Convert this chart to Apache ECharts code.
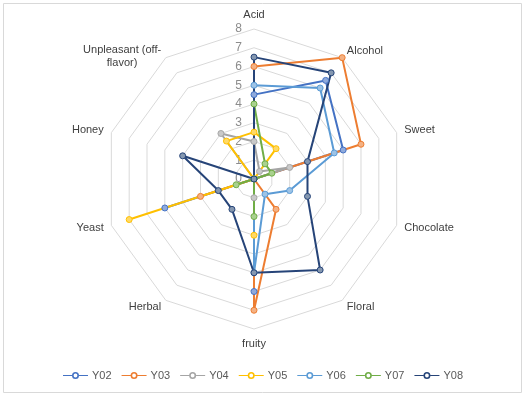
<!DOCTYPE html>
<html>
<head>
<meta charset="utf-8">
<script src="https://cdn.jsdelivr.net/npm/echarts@6/dist/echarts.min.js"></script>
<style>
    html, body { margin: 0; padding: 0; background: #fff; }
    #radarChart { width: 526px; height: 397px; }
</style>
</head>
<body>
<div id="radarChart"></div>
<script>
// attributes, in the order Excel walks them (clockwise from the top)
let categories = ['Acid', 'Alcohol', 'Sweet', 'Chocolate', 'Floral', 'fruity', 'Herbal', 'Yeast', 'Honey', 'Unpleasant (off-\nflavor)'];
let seriesNames = ['Y02', 'Y03', 'Y04', 'Y05', 'Y06', 'Y07', 'Y08'];
let scaleMax = 8;

let Y02 = [4.5, 6.5, 5, 0, 0, 6, 0, 5, 0, 0];
let Y03 = [6, 8, 6, 0, 2, 7, 0, 3, 0, 0];
let Y04 = [2, 0.5, 2, 0, 0, 1, 0, 0, 0, 3];
let Y05 = [2.5, 2, 0, 0, 0, 3, 0, 7, 0, 2.5];
let Y06 = [5, 6, 4.5, 2, 1, 5, 0, 0, 0, 0];
let Y07 = [4, 1, 1, 0, 0, 2, 0, 1, 0, 0];
let Y08 = [6.5, 7, 3, 3, 6, 5, 2, 2, 4, 0];

let values = [Y02, Y03, Y04, Y05, Y06, Y07, Y08];
let lineColors = ['#4472C4', '#ED7D31', '#A5A5A5', '#FFC000', '#5B9BD5', '#70AD47', '#264478'];
let markerFills = ['#8FAADC', '#F4B183', '#C9C9C9', '#FFD966', '#9DC3E6', '#A9D18E', '#8497B0'];

// echarts lays radar axes out counter-clockwise, so flip everything after the first
let order = [0];
for (let i = categories.length - 1; i > 0; i--) order.push(i);

let indicators = order.map(function (i, k) {
    let ind = { name: categories[i], max: scaleMax, min: 0 };
    if (k === 0) {
        ind.axisLabel = { show: true, color: '#8c8c8c', fontSize: 12, margin: 12, showMinLabel: true, showMaxLabel: true };
    }
    return ind;
});

let legendIcon = 'path://M0,3h9v1h-9z M16,3h9v1h-9z M9,3.5a3.5,3.5 0 1,0 7,0a3.5,3.5 0 1,0 -7,0z M10.6,3.5a1.9,1.9 0 1,1 3.8,0a1.9,1.9 0 1,1 -3.8,0z';

let radarOption = {
    animation: false,
    textStyle: { fontFamily: 'Liberation Sans' },
    graphic: [
        {
            type: 'rect',
            shape: { x: 3.5, y: 3.5, width: 518, height: 389 },
            style: { fill: 'none', stroke: '#d9d9d9', lineWidth: 1 }
        }
    ],
    legend: {
        left: 'center',
        top: 365,
        itemWidth: 25,
        itemHeight: 7,
        itemGap: 10,
        textStyle: { color: '#595959', fontSize: 11, padding: [0, 0, 0, -1] },
        data: seriesNames.map(function (n, i) {
            return { name: n, icon: legendIcon, itemStyle: { color: lineColors[i], borderWidth: 0 } };
        })
    },
    radar: {
        center: [254, 179],
        radius: 150,
        startAngle: 90,
        shape: 'polygon',
        splitNumber: 8,
        nameGap: 8,
        axisName: {
            color: '#404040',
            fontSize: 11,
            formatter: function (v) {
                let lines = v.split('\n');
                let body = lines.map(function (s) { return '{c|' + s + '}'; }).join('\n');
                // two-line name sits a little lower in the original
                return lines.length > 1 ? '{e|}\n' + body : body;
            },
            rich: {
                c: { align: 'center', color: '#404040', fontSize: 11, lineHeight: 13 },
                e: { fontSize: 1, lineHeight: 10 }
            }
        },
        axisLine: { show: false },
        axisTick: { show: false },
        axisLabel: { show: false },
        splitArea: { show: false },
        splitLine: { lineStyle: { color: '#d9d9d9', width: 1 } },
        indicator: indicators
    },
    series: seriesNames.map(function (n, i) {
        return {
            name: n,
            type: 'radar',
            symbol: 'circle',
            symbolSize: 6,
            lineStyle: { color: lineColors[i], width: 2 },
            itemStyle: { color: markerFills[i], borderColor: lineColors[i], borderWidth: 1 },
            data: [{ name: n, value: order.map(function (k) { return values[i][k]; }) }]
        };
    })
};

let radarChart = echarts.init(document.getElementById('radarChart'));
radarChart.setOption(radarOption);
</script>
</body>
</html>
